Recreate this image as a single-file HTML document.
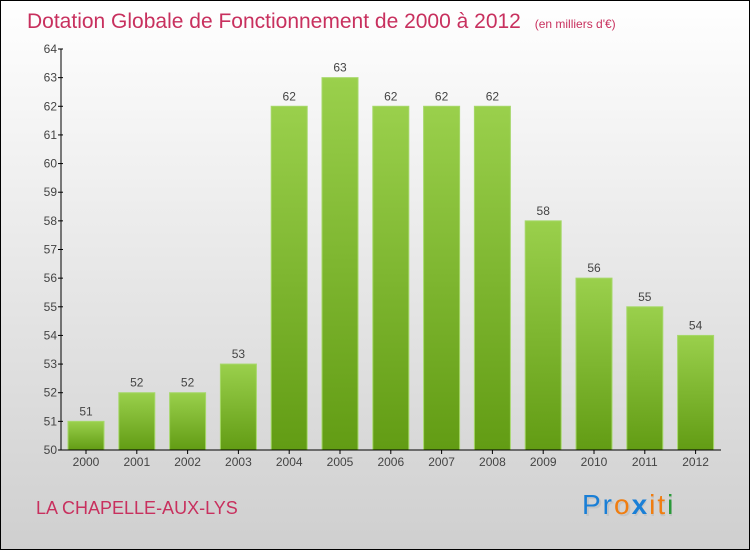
<!DOCTYPE html>
<html><head><meta charset="utf-8"><style>
html,body{margin:0;padding:0;}
body{width:750px;height:550px;overflow:hidden;font-family:"Liberation Sans",sans-serif;}
</style></head><body>
<svg width="750" height="550" xmlns="http://www.w3.org/2000/svg">
<defs>
<linearGradient id="bg" x1="0" y1="0" x2="0" y2="1"><stop offset="0" stop-color="#ffffff"/><stop offset="1" stop-color="#cfcfcf"/></linearGradient>
<linearGradient id="bar" x1="0" y1="0" x2="0" y2="1"><stop offset="0" stop-color="#9ad04c"/><stop offset="1" stop-color="#629c14"/></linearGradient>
</defs>
<rect x="0.5" y="0.5" width="749" height="549" fill="url(#bg)" stroke="#000"/>
<text x="27" y="28" font-size="21" fill="#c8305e">Dotation Globale de Fonctionnement de 2000 à 2012 <tspan font-size="12" dx="8">(en milliers d'€)</tspan></text>
<g id="plot"></g>
<text x="36" y="514" font-size="18" fill="#c8305e">LA CHAPELLE-AUX-LYS</text>
<g font-size="28" letter-spacing="2">
<text x="584" y="516" fill="#bbb" opacity="0.6">Proxiti</text>
<text x="582" y="514"><tspan fill="#1a7fd6">Pr</tspan><tspan fill="#f07d10">o</tspan><tspan fill="#1a7fd6" font-weight="bold">x</tspan><tspan fill="#f07d10">i</tspan><tspan fill="#f07d10">t</tspan><tspan fill="#2a9a3a">i</tspan></text>
</g>
</svg>
<script>
const years=["2000","2001","2002","2003","2004","2005","2006","2007","2008","2009","2010","2011","2012"];
const values=[51,52,52,53,62,63,62,62,62,58,56,55,54];
const yTicks=[50,51,52,53,54,55,56,57,58,59,60,61,62,63,64];
const NS="http://www.w3.org/2000/svg";
const g=document.getElementById('plot');
const y0=450,yTop=49,vMin=50,vMax=64;
const yS=v=>y0-(v-vMin)*(y0-yTop)/(vMax-vMin);
const x0=61,step=50.8,first=86,bw=36;
const xS=i=>first+i*step;
function mk(t,a){const e=document.createElementNS(NS,t);for(const k in a)e.setAttribute(k,a[k]);g.appendChild(e);return e;}
years.forEach((yr,i)=>{
  const cx=xS(i),yt=yS(values[i]);
  const r=mk('rect',{x:cx-bw/2,y:yt,width:bw,height:y0-yt,fill:'url(#bar)',stroke:'#a6d86a','stroke-width':1});
  
  
  const t=mk('text',{x:cx,y:yt-6,'text-anchor':'middle','font-size':12,fill:'#444'});
  t.textContent=values[i];
  
  
  const xl=mk('text',{x:cx,y:466,'text-anchor':'middle','font-size':12,fill:'#444'});
  xl.textContent=yr;
  
  
  mk('line',{x1:cx,x2:cx,y1:450,y2:454,stroke:'#000'});
});
yTicks.forEach(v=>{
  const y=yS(v);
  mk('line',{x1:58,x2:63,y1:y,y2:y,stroke:'#000'});
  const t=mk('text',{x:57,y:y+4,'text-anchor':'end','font-size':12,fill:'#444'});
  t.textContent=v;
  
  
});
const ya=mk('line',{x1:x0,x2:x0,y1:yTop,y2:y0,stroke:'#000'});


const xa=mk('line',{x1:x0,x2:721,y1:y0,y2:y0,stroke:'#000'});


</script>
</body></html>
